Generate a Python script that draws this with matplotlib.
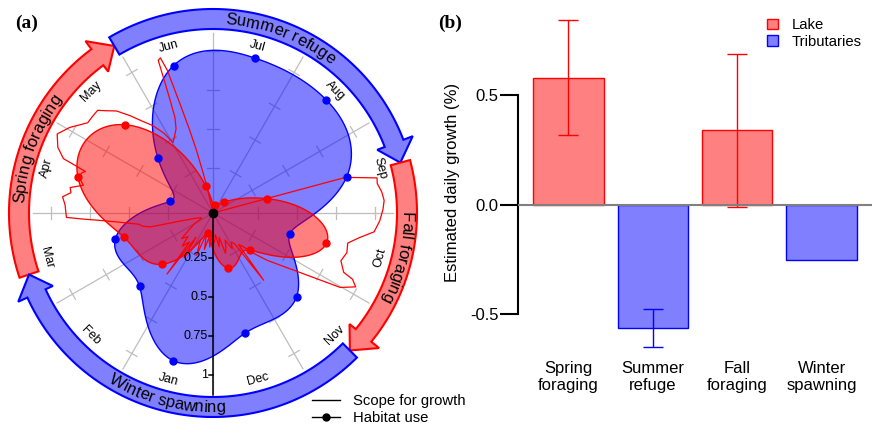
import numpy as np
import matplotlib
matplotlib.use('agg')
import matplotlib.pyplot as plt
from matplotlib.lines import Line2D
from matplotlib.patches import Patch
from matplotlib.font_manager import FontProperties, findfont
from matplotlib.ft2font import FT2Font

plt.rcParams['font.family'] = ['Liberation Sans', 'DejaVu Sans']

# ---- data: panel (a) ----
months = ['Jan', 'Feb', 'Mar', 'Apr', 'May', 'Jun',
          'Jul', 'Aug', 'Sep', 'Oct', 'Nov', 'Dec']
lake_use = [0.09, 0.425, 0.553, 0.857, 0.76, 0.137,
            0.01, 0.057, 0.316, 0.713, 0.299, 0.326]
trib_use = [0.941, 0.626, 0.608, 0.247, 0.46, 0.938,
            0.989, 0.986, 0.846, 0.47, 0.718, 0.757]

# scope for growth in the lake (day of year, value)
sfg_day = [1, 5, 9, 13, 17, 21, 25, 29, 33, 35, 37, 39, 43, 47, 51, 55, 60,
           64, 68, 72, 75, 77, 78, 80, 82, 85, 87, 88, 89, 94, 97, 99,
           101, 103, 106, 108, 109, 110, 111, 114, 118, 122, 127, 130, 133,
           135, 138, 141, 144, 147, 150, 152, 155, 158, 160, 161, 162, 163,
           164, 165, 166, 167, 168, 169, 171, 255, 258, 261, 263, 266, 269,
           272, 276, 280, 283, 286, 290, 294, 298, 299, 301, 304, 315, 319,
           322, 325, 327, 329, 332, 336, 340, 344, 347, 350, 354, 358, 362,
           365]
sfg_val = [0.10, 0.18, 0.12, 0.20, 0.10, 0.25, 0.15, 0.20, 0.30, 0.15, 0.45,
           0.20, 0.25, 0.18, 0.22, 0.15, 0.10, 0.05, 0.04, 0.06, 0.10,
           0.20, 0.37, 0.42, 0.44, 0.56, 0.69, 0.79, 0.90, 0.91,
           0.93, 0.88, 0.89, 0.81, 0.85, 0.84, 0.82, 0.89, 0.98, 1.04, 1.08,
           1.03, 0.95, 0.95, 0.95, 0.91, 0.86, 0.78, 0.70, 0.64, 0.56, 0.48,
           0.51, 0.55, 0.62, 0.75, 1.00, 1.01, 0.92, 0.68, 0.52, 0.38, 0.22,
           0.11, -0.10, -0.10, 0.84, 1.035, 1.03, 1.05, 1.06, 1.05, 1.03,
           1.00, 0.91, 0.845, 0.855, 0.835, 0.88, 0.95, 0.99, 0.905, 0.42,
           0.32, 0.25, 0.22, 0.50, 0.20, 0.18, 0.22, 0.15, 0.20, 0.23, 0.12,
           0.18, 0.10, 0.15, 0.12]

phase_names = ['Spring foraging', 'Summer refuge', 'Fall foraging', 'Winter spawning']
phase_start = [72, 151, 258, 319]   # day of year
phase_habitat = ['Lake', 'Tributaries', 'Lake', 'Tributaries']

# ---- data: panel (b) ----
bar_labels = ['Spring\nforaging', 'Summer\nrefuge', 'Fall\nforaging', 'Winter\nspawning']
growth = [0.58, -0.564, 0.34, -0.254]
growth_lo = [0.318, -0.651, -0.012, np.nan]
growth_hi = [0.843, -0.478, 0.688, np.nan]

line_col = {'Lake': 'red', 'Tributaries': 'blue'}
fill_col = {'Lake': '#FF8080', 'Tributaries': '#8080FF'}
alpha_col = {'Lake': (1, 0, 0, 0.5), 'Tributaries': (0, 0, 1, 0.5)}

W, H = 875, 433
fig = plt.figure(figsize=(W / 100, H / 100), dpi=100)

# polar geometry
R0, RMAX, PX = -0.04, 1.36, 156.0
cx, cy = 213, 213


def rad(px):
    return px / PX + R0


def ang(doy):
    return (np.asarray(doy, float) - 182) * 2 * np.pi / 365


def periodic_spline(y, n_out=720):
    y = np.asarray(y, float)
    n = len(y)
    A = 4 * np.eye(n) + np.roll(np.eye(n), 1, axis=1) + np.roll(np.eye(n), -1, axis=1)
    M = np.linalg.solve(A, 6 * (np.roll(y, -1) - 2 * y + np.roll(y, 1)))
    t = np.linspace(0, n, n_out, endpoint=False)
    i = np.floor(t).astype(int) % n
    u = t - np.floor(t)
    j = (i + 1) % n
    s = (1 - u) * y[i] + u * y[j] + ((1 - u) ** 3 - (1 - u)) * M[i] / 6 + (u ** 3 - u) * M[j] / 6
    return t, s


size = (RMAX - R0) * PX * 2
ax = fig.add_axes([(cx - size / 2) / W, (H - cy - size / 2) / H, size / W, size / H],
                  projection='polar')
ax.set_theta_zero_location('N')
ax.set_theta_direction(-1)

# spokes with cross ticks
for k in range(12):
    t = np.deg2rad(k * 30)
    ax.plot([t, t], [R0, rad(180)], color='#BEBEBE', lw=0.9, zorder=1)
    if k == 6:
        continue
    for rv in [0.25, 0.5, 0.75, 1.0]:
        rho = (rv - R0) * PX
        d = np.arctan(6 / rho)
        re = rad(np.hypot(rho, 6))
        ax.plot([t - d, t + d], [re, re], color='#BEBEBE', lw=0.9, zorder=1)

# habitat use shapes
theta_k = np.deg2rad((np.arange(12) + 0.5 - 6) * 30)
for use, hab in [(trib_use, 'Tributaries'), (lake_use, 'Lake')]:
    t, s = periodic_spline(use)
    tt = np.deg2rad((t + 0.5 - 6) * 30)
    ax.fill(tt, np.maximum(s, R0), facecolor=alpha_col[hab], edgecolor=line_col[hab],
            lw=1, zorder=2)

# scope for growth
ax.plot(ang(sfg_day), np.maximum(sfg_val, R0), color='red', lw=0.9, zorder=3)

for use, hab in [(trib_use, 'Tributaries'), (lake_use, 'Lake')]:
    ax.plot(theta_k, use, 'o', color=line_col[hab], ms=5, zorder=4)

# radial axis
ax.plot([np.pi, np.pi], [R0, rad(182)], color='black', lw=1.1, zorder=5)
for rv in [0.25, 0.5, 0.75, 1.0]:
    rho = (rv - R0) * PX
    d = np.arctan(4 / rho)
    ax.plot([np.pi, np.pi + d], [rv, rad(np.hypot(rho, 4))], color='black', lw=1.1, zorder=5)
    ax.annotate(f'{rv:g}', xy=(np.pi, rv), xytext=(-5, 0), textcoords='offset pixels',
                ha='right', va='center', fontsize=9, zorder=6)
ax.plot(0, R0, 'o', color='black', ms=6, zorder=7)

# month labels
for k, m in enumerate(months):
    th = (k + 0.5 - 6) * 30 % 360
    rot = 180 - th if 90 < th < 270 else -th
    ax.text(np.deg2rad(th), rad(172.6), m, rotation=rot, rotation_mode='anchor',
            ha='center', va='center', fontsize=9)

# phase arrows
r_in, r_out = rad(184), rad(204)
r_bi, r_bo, r_mid = rad(176), rad(214), rad(194)
head = np.deg2rad(6)
ends = phase_start[1:] + [phase_start[0] + 365]
for st, en, hab in zip(phase_start, ends, phase_habitat):
    t0, t1 = ang(st), ang(en)
    ts = np.linspace(t0, t1 - head, 80)
    th = np.concatenate([ts, [t1 - head, t1, t1 - head], ts[::-1]])
    rr = np.concatenate([np.full(80, r_out), [r_bo, r_mid, r_bi], np.full(80, r_in)])
    ax.fill(th, rr, facecolor=fill_col[hab], edgecolor=line_col[hab], lw=1.5,
            joinstyle='miter', zorder=3)

# curved phase labels
font = FT2Font(findfont(FontProperties(family='Liberation Sans')))
font.set_size(12, 100)


def advance(c):
    return font.load_char(ord(c)).linearHoriAdvance / 65536


label_pos = {'Spring foraging': (290, False), 'Summer refuge': (21, False),
             'Fall foraging': (103.5, False), 'Winter spawning': (194, True)}
for name in phase_names:
    tc, flip = label_pos[name]
    adv = np.array([advance(c) for c in name])
    offs = np.cumsum(adv) - adv / 2 - adv.sum() / 2
    rb = 199 if flip else 189
    for c, off in zip(name, offs):
        if c == ' ':
            continue
        dth = np.rad2deg(off / rb)
        th = tc - dth if flip else tc + dth
        rot = 180 - th if flip else -th
        ax.text(np.deg2rad(th), rad(rb), c, rotation=rot, rotation_mode='anchor',
                ha='center', va='baseline', fontsize=12, zorder=8)

ax.grid(False)
ax.set_xticks([])
ax.set_yticks([])
for sp in ax.spines.values():
    sp.set_visible(False)
ax.patch.set_visible(False)
ax.set_rlim(R0, RMAX)
ax.set_rorigin(R0)

fig.legend(handles=[Line2D([], [], color='black', lw=1),
                    Line2D([], [], color='black', lw=1, marker='o', ms=5)],
           labels=['Scope for growth', 'Habitat use'], loc='upper left',
           bbox_to_anchor=(312 / W, 1 - 394.5 / H), borderpad=0, borderaxespad=0,
           handlelength=1.87, handletextpad=0.88, labelspacing=0.2, frameon=False,
           fontsize=10.7, numpoints=1)

# ---- panel (b) ----
ax2 = fig.add_axes([518 / W, 75 / H, 354 / W, 350.4 / H])
x = np.arange(len(growth))
ax2.bar(x, growth, width=0.833, color=[fill_col[h] for h in phase_habitat],
        edgecolor=[line_col[h] for h in phase_habitat], lw=1, zorder=2)
for xi, g, lo, hi, hab in zip(x, growth, growth_lo, growth_hi, phase_habitat):
    if np.isnan(lo):
        continue
    ax2.errorbar(xi, g, yerr=[[g - lo], [hi - g]], color=line_col[hab], lw=1,
                 capsize=7.5, capthick=1, zorder=3)
ax2.axhline(0, color='#808080', lw=1.5, zorder=4)
ax2.set_xlim(-0.597, 3.597)
ax2.set_ylim(-0.7, 0.9)
for s in ['top', 'right', 'bottom']:
    ax2.spines[s].set_visible(False)
ax2.spines['left'].set_bounds(-0.5, 0.5)
ax2.spines['left'].set_linewidth(1.5)
ax2.set_yticks([-0.5, 0, 0.5], ['-0.5', '0.0', '0.5'])
ax2.tick_params(axis='y', length=13, width=1.5, pad=1, labelsize=12)
ax2.set_xticks(x, bar_labels)
ax2.tick_params(axis='x', length=0, pad=2, labelsize=12)
ax2.set_ylabel('Estimated daily growth (%)', fontsize=12)
ax2.yaxis.set_label_coords(-0.164, 0.5)
ax2.patch.set_visible(False)
ax2.legend(handles=[Patch(facecolor=fill_col['Lake'], edgecolor='red', lw=1),
                    Patch(facecolor=fill_col['Tributaries'], edgecolor='blue', lw=1)],
           labels=['Lake', 'Tributaries'], loc='upper left',
           bbox_to_anchor=(0.7025, 0.969), borderpad=0, borderaxespad=0,
           handlelength=0.78, handleheight=0.7, handletextpad=0.92,
           labelspacing=0.15, frameon=False, fontsize=10.7)

fig.text(15 / W, 1 - 23 / H, '(a)', family='Liberation Serif', weight='bold',
         fontsize=14, va='center', ha='left')
fig.text(438 / W, 1 - 23 / H, '(b)', family='Liberation Serif', weight='bold',
         fontsize=14, va='center', ha='left')

fig.savefig('out.png', dpi=100)
